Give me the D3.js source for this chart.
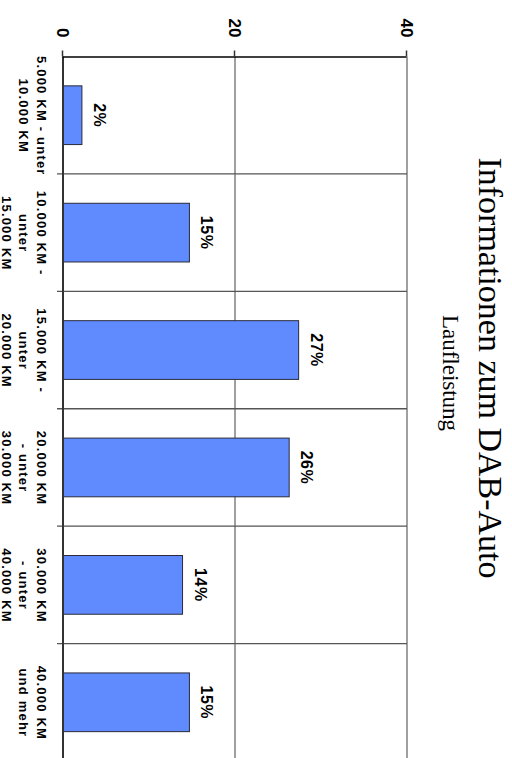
<!DOCTYPE html>
<html>
<head>
<meta charset="utf-8">
<script src="https://cdn.jsdelivr.net/npm/d3@7"></script>
<style>
  body { margin: 0; background: #fff; }
  svg { display: block; }
</style>
</head>
<body>
<svg id="chart" width="512" height="758"></svg>
<script>
// categories (each one split in the lines it is drawn with)
const categories = ["5-10", "10-15", "15-20", "20-30", "30-40", "40+"]
const categoryLines = [
  ["5.000 KM - unter", "10.000 KM"],
  ["10.000 KM -", "unter", "15.000 KM"],
  ["15.000 KM -", "unter", "20.000 KM"],
  ["20.000 KM", "- unter", "30.000 KM"],
  ["30.000 KM", "- unter", "40.000 KM"],
  ["40.000 KM", "und mehr"]
]
// share in percent
const values = [2.2, 14.7, 27.4, 26.3, 13.9, 14.7]
const tickValues = [0, 20, 40]

const title = "Informationen zum DAB-Auto"
const subtitle = "Laufleistung"

// the chart is drawn as a normal column chart, then turned 90° clockwise
let W = 758, H = 512
let svg = d3.select("#chart")
let g = svg.append("g")
    .attr("transform", `translate(512,0) rotate(90)`)

let margin = { top: 105, right: -3, bottom: 63, left: 56.5 }

let x = d3.scaleBand()
    .domain(categories)
    .range([margin.left, W - margin.right])
    .paddingInner(0.5)
    .paddingOuter(0.25)

let y = d3.scaleLinear()
    .domain([0, 40])
    .range([H - margin.bottom, margin.top])

let data = categories.map((c, i) => ({ cat: c, value: values[i], lines: categoryLines[i] }))

// horizontal gridlines (value 20 and 40)
g.append("g")
  .selectAll("line")
  .data(tickValues.filter(d => d > 0))
  .join("line")
    .attr("x1", margin.left)
    .attr("x2", W - margin.right)
    .attr("y1", d => y(d))
    .attr("y2", d => y(d))
    .style("stroke", "#808080")
    .style("stroke-width", "1.5px")

// category separators, with a small tick under the axis
let gap = (x.step() - x.bandwidth()) / 2
g.append("g")
  .selectAll("line")
  .data(categories.slice(1))
  .join("line")
    .attr("x1", d => x(d) - gap)
    .attr("x2", d => x(d) - gap)
    .attr("y1", y(0) + 6)
    .attr("y2", y(40))
    .style("stroke", "#555")
    .style("stroke-width", "1.3px")

// bars
g.append("g")
  .selectAll("rect")
  .data(data)
  .join("rect")
    .attr("x", d => x(d.cat))
    .attr("y", d => y(d.value))
    .attr("width", x.bandwidth())
    .attr("height", d => y(0) - y(d.value))
    .style("fill", "#608bff")
    .style("stroke", "#2a2a3a")
    .style("stroke-width", "1px")

// value labels
g.append("g")
  .selectAll("text")
  .data(data)
  .join("text")
    .attr("x", d => x(d.cat) + x.bandwidth() / 2)
    .attr("y", d => y(d.value) - 12)
    .attr("text-anchor", "middle")
    .style("font-family", "'Liberation Sans', Arial, sans-serif")
    .style("font-weight", "bold")
    .style("font-size", "16px")
    .style("letter-spacing", "0.5px")
    .text(d => d3.format(".0f")(d.value) + "%")

// category axis (bottom line)
g.append("line")
    .attr("x1", margin.left)
    .attr("x2", W - margin.right)
    .attr("y1", y(0))
    .attr("y2", y(0))
    .style("stroke", "#333")
    .style("stroke-width", "2px")

// category labels
let catLabels = g.append("g")
  .selectAll("text")
  .data(data)
  .join("text")
    .attr("text-anchor", "middle")
    .style("font-family", "'Liberation Sans', Arial, sans-serif")
    .style("font-weight", "bold")
    .style("font-size", "13px")
    .style("letter-spacing", "1.2px")

catLabels.selectAll("tspan")
  .data(d => d.lines.map(l => ({ cat: d.cat, text: l })))
  .join("tspan")
    .attr("x", d => x(d.cat) + x.bandwidth() / 2 + 0.6)
    .attr("y", (d, i) => y(0) + 26 + i * 17.7)
    .text(d => d.text)

// value axis
let yAxis = g.append("g")
    .attr("transform", `translate(${margin.left},0)`)
    .call(d3.axisLeft(y)
      .tickValues(tickValues)
      .tickSize(6)
      .tickSizeOuter(0)
      .tickPadding(13))

yAxis.select(".domain").style("stroke", "#000").style("stroke-width", "1.3px")
yAxis.selectAll(".tick line").style("stroke", "#333").style("stroke-width", "1.5px")
yAxis.selectAll(".tick text")
    .style("font-family", "'Liberation Sans', Arial, sans-serif")
    .style("font-weight", "bold")
    .style("font-size", "17px")
    .style("fill", "#000")

// titles
g.append("text")
    .attr("x", 368)
    .attr("y", 33)
    .attr("text-anchor", "middle")
    .style("font-family", "'Liberation Serif', 'Times New Roman', serif")
    .style("font-size", "34px")
    .text(title)

g.append("text")
    .attr("x", 373)
    .attr("y", 69)
    .attr("text-anchor", "middle")
    .style("font-family", "'Liberation Serif', 'Times New Roman', serif")
    .style("font-size", "23px")
    .text(subtitle)
</script>
</body>
</html>
